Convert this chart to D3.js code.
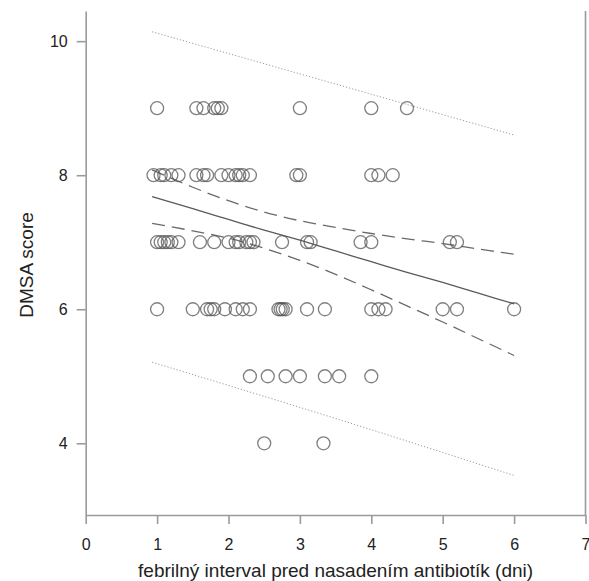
<!DOCTYPE html>
<html>
<head>
<meta charset="utf-8">
<script src="https://cdn.jsdelivr.net/npm/d3@7"></script>
<style>
  body { margin: 0; background: #fff; }
  svg { font-family: "Liberation Sans", Arial, sans-serif; }
  .axis path, .axis line { stroke: #9a9a9a; stroke-width: 1.6; }
  .axis text { fill: #222; font-size: 16px; }
</style>
</head>
<body>
<div id="chart"></div>
<script>
// width and height of the whole picture
var width = 589,
  height = 581;

var scoreLevels = [9, 8, 7, 6, 5, 4];
var days9 = [1.0, 1.55, 1.65, 1.8, 1.85, 1.9, 3.0, 4.0, 4.5];
var days8 = [0.95, 1.05, 1.1, 1.2, 1.3, 1.55, 1.65, 1.7, 1.9, 2.0, 2.1, 2.15, 2.2, 2.3, 2.95, 3.0, 4.0, 4.1, 4.3];
var days7 = [1.0, 1.05, 1.1, 1.15, 1.2, 1.3, 1.6, 1.8, 2.0, 2.1, 2.15, 2.25, 2.3, 2.35, 2.75, 3.1, 3.15, 3.85, 4.0, 5.1, 5.2];
var days6 = [1.0, 1.5, 1.7, 1.75, 1.8, 1.95, 2.1, 2.2, 2.3, 2.7, 2.73, 2.76, 2.8, 3.1, 3.35, 4.0, 4.1, 4.2, 5.0, 5.2, 6.0];
var days5 = [2.3, 2.55, 2.8, 3.0, 3.35, 3.55, 4.0];
var days4 = [2.5, 3.33];

// regression line with its confidence band (dashed) and prediction band (dotted)
var fitX = [0.93, 1.5, 2.0, 2.5, 3.0, 3.5, 4.0, 4.5, 5.0, 5.5, 6.0];
var fitY = [7.68, 7.5, 7.34, 7.18, 7.03, 6.87, 6.71, 6.55, 6.4, 6.24, 6.08];
var confUpper = [8.08, 7.82, 7.62, 7.45, 7.32, 7.22, 7.13, 7.05, 6.98, 6.9, 6.82];
var confLower = [7.28, 7.17, 7.06, 6.91, 6.73, 6.52, 6.29, 6.05, 5.81, 5.56, 5.31];
var predX = [0.93, 3.5, 6.0];
var predUpper = [10.14, 9.36, 8.6];
var predLower = [5.21, 4.37, 3.52];

// tick labels
var xTicks = [0, 1, 2, 3, 4, 5, 6, 7];
var yTicks = [4, 6, 8, 10];

var svg = d3
  .select("#chart")
  .append("svg")
  .attr("width", width)
  .attr("height", height);

var x = d3.scaleLinear().domain([0, 7]).range([85.7, 585.5]);
var y = d3.scaleLinear().domain([2.93, 10.45]).range([515, 11]);

// bottom axis
svg
  .append("g")
  .attr("class", "axis")
  .attr("transform", "translate(0," + y(2.93) + ")")
  .call(d3.axisBottom(x).tickValues(xTicks).tickSize(9).tickSizeOuter(0).tickPadding(15).tickFormat(d3.format("d")));

// left axis
svg
  .append("g")
  .attr("class", "axis")
  .attr("transform", "translate(" + x(0) + ",0)")
  .call(d3.axisLeft(y).tickValues(yTicks).tickSize(9).tickSizeOuter(0).tickPadding(9).tickFormat(d3.format("d")));

// right border line, no ticks
svg
  .append("line")
  .attr("x1", x(7))
  .attr("x2", x(7))
  .attr("y1", y(10.45))
  .attr("y2", y(2.93))
  .attr("stroke", "#9a9a9a")
  .attr("stroke-width", 1.6);

// axis titles
svg
  .append("text")
  .attr("x", (x(0) + x(7)) / 2)
  .attr("y", 577)
  .attr("text-anchor", "middle")
  .attr("font-size", 19)
  .attr("fill", "#222")
  .text("febrilný interval pred nasadením antibiotík (dni)");

svg
  .append("text")
  .attr("transform", "translate(33,265) rotate(-90)")
  .attr("text-anchor", "middle")
  .attr("font-size", 19)
  .attr("fill", "#222")
  .text("DMSA score");

// builds the point list from the arrays above
var dayLists = [days9, days8, days7, days6, days5, days4];
var points = [];
scoreLevels.forEach(function(s, i) {
  dayLists[i].forEach(function(d) {
    points.push({ day: d, score: s });
  });
});

var line = d3
  .line()
  .x(function(d) { return x(d[0]); })
  .y(function(d) { return y(d[1]); })
  .curve(d3.curveMonotoneX);

function pairs(xs, ys) {
  return xs.map(function(v, i) { return [v, ys[i]]; });
}

// prediction band
[predUpper, predLower].forEach(function(band) {
  svg
    .append("path")
    .attr("d", line(pairs(predX, band)))
    .attr("fill", "none")
    .attr("stroke", "#9a9a9a")
    .attr("stroke-width", 1)
    .attr("stroke-dasharray", "1.2,2");
});

// confidence band
[confUpper, confLower].forEach(function(band) {
  svg
    .append("path")
    .attr("d", line(pairs(fitX, band)))
    .attr("fill", "none")
    .attr("stroke", "#6a6a6a")
    .attr("stroke-width", 1.3)
    .attr("stroke-dasharray", "13,7");
});

// regression line
svg
  .append("path")
  .attr("d", line(pairs(fitX, fitY)))
  .attr("fill", "none")
  .attr("stroke", "#5a5a5a")
  .attr("stroke-width", 1.3);

// open circles
svg
  .selectAll("circle.pt")
  .data(points)
  .enter()
  .append("circle")
  .attr("class", "pt")
  .attr("cx", function(d) { return x(d.day); })
  .attr("cy", function(d) { return y(d.score); })
  .attr("r", 6.5)
  .attr("fill", "none")
  .attr("stroke", "#555")
  .attr("stroke-opacity", 0.75)
  .attr("stroke-width", 1.3);
</script>
</body>
</html>
